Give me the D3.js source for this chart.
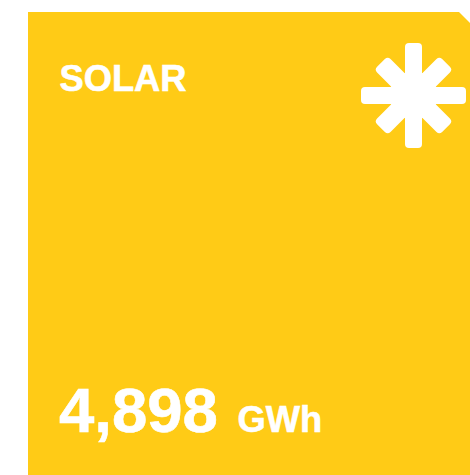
<!DOCTYPE html>
<html>
<head>
<meta charset="utf-8">
<script src="https://cdn.jsdelivr.net/npm/d3@7"></script>
<style>
  html, body { margin: 0; padding: 0; background: #fff; overflow: hidden; }
  text { font-family: "Liberation Sans", Arial, sans-serif; font-weight: bold; fill: #fff; stroke: #fff; stroke-width: 0.6px; }
</style>
</head>
<body>
<script>
const labels = ['SOLAR'];
const values = [4898];
const units = ['GWh'];

const width = 470;
const height = 475;
const tile = { left: 28, top: 12, notch: 11 };
const yellow = '#FFCB16';

const svg = d3.select('body').append('svg')
  .attr('width', width)
  .attr('height', height)
  .style('display', 'block');

// tile with the clipped top right corner
const outline = d3.path();
outline.moveTo(tile.left, tile.top);
outline.lineTo(width - tile.notch, tile.top);
outline.lineTo(width, tile.top + tile.notch);
outline.lineTo(width, height);
outline.lineTo(tile.left, height);
outline.closePath();
svg.append('path').attr('d', outline.toString()).attr('fill', yellow);

// sun icon: four rounded bars through one centre
const icon = svg.append('g').attr('transform', 'translate(413.5,95.5)');
[[0, 105], [45, 92], [90, 105], [135, 92]].forEach(([angle, len]) => {
  const w = angle % 90 ? 19 : 17;
  icon.append('rect')
    .attr('x', -len / 2)
    .attr('y', -w / 2)
    .attr('width', len)
    .attr('height', w)
    .attr('rx', 4)
    .attr('fill', '#fff')
    .attr('transform', `rotate(${angle})`);
});
icon.append('circle').attr('r', 24).attr('fill', '#fff');

svg.append('text')
  .attr('x', 59.5)
  .attr('y', 91)
  .attr('font-size', 36.3)
  .text(labels[0]);

svg.append('text')
  .attr('x', 59)
  .attr('y', 432)
  .attr('font-size', 63.5)
  .text(d3.format(',')(values[0]));

svg.append('text')
  .attr('x', 237.5)
  .attr('y', 432)
  .attr('font-size', 36.3)
  .text(units[0]);
</script>
</body>
</html>
